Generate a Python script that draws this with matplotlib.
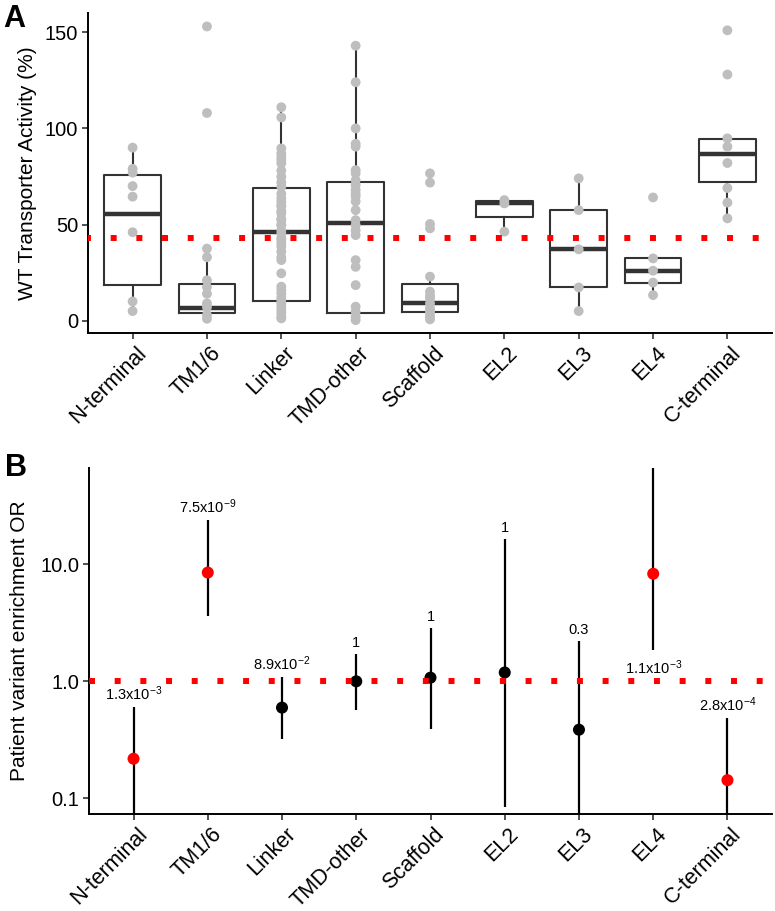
import matplotlib
matplotlib.use("Agg")
import matplotlib.pyplot as plt
import matplotlib.transforms as mtransforms

plt.rcParams['font.family'] = ['Liberation Sans', 'DejaVu Sans']
plt.rcParams['mathtext.fontset'] = 'custom'
plt.rcParams['mathtext.rm'] = 'Liberation Sans'
plt.rcParams['mathtext.it'] = 'Liberation Sans:italic'
plt.rcParams['mathtext.bf'] = 'Liberation Sans:bold'

regions = ["N-terminal", "TM1/6", "Linker", "TMD-other", "Scaffold",
           "EL2", "EL3", "EL4", "C-terminal"]

# panel A - transporter activity of each variant (% of WT)
activity = [
    [90, 79, 77, 70, 64.5, 46, 10, 5],
    [153, 108, 37.5, 33, 21, 17.5, 14, 9, 7, 3, 1],
    [111, 105.7, 89.6, 87, 85, 83.5, 81.8, 78, 74.9, 72, 69.7, 66, 63.6, 61.9,
     60, 59.3, 57, 55.8, 53, 52.3, 50, 49.7, 47, 45.4, 43, 41.9, 40, 38.5,
     35.9, 33, 31.5, 24.6, 17.7, 16, 14.2, 12, 10.7, 9, 7.3, 5.5, 3.8, 2, 1.2],
    [143, 124, 100, 92, 90.5, 78.3, 76.6, 73, 70.5, 68, 66, 64.5, 62, 57.5,
     52.3, 49.7, 47, 44.5, 31.5, 28, 18.5, 7.3, 4.7, 2, 0.3],
    [76.6, 71.8, 50.3, 48, 22.9, 15.1, 13, 11.6, 9, 6.4, 5, 3.8, 2, 0.7],
    [62.7, 61, 46.3],
    [74, 57.5, 37.1, 17.3, 5],
    [64.1, 32.4, 26, 19.8, 13.3],
    [151, 128, 94.8, 90.5, 82, 69, 61.4, 53.2],
]
box_q1 = [18.5, 3.8, 10.2, 4.2, 4.7, 53.7, 17.3, 19.8, 72.3]
box_med = [55.6, 6.8, 45.9, 50.6, 9.0, 61.4, 37.1, 26.0, 86.7]
box_q3 = [75.9, 19.2, 68.8, 72.3, 19.1, 62.2, 57.5, 32.4, 94.3]
whisk_lo = [5, 1, 1.2, 0.3, 0.7, 46.3, 5, 13.3, 53.2]
whisk_hi = [90, 37.5, 111, 143, 22.9, 62.7, 74, 32.4, 94.8]
wt_activity_line = 43

# panel B - patient variant enrichment odds ratios
odds_ratio = [0.218, 8.5, 0.596, 1.0, 1.075, 1.19, 0.386, 8.3, 0.143]
ci_low = [0.03, 3.6, 0.32, 0.565, 0.394, 0.084, 0.03, 1.84, 0.03]
ci_high = [0.60, 23.8, 1.09, 1.70, 2.88, 16.4, 2.2, 90, 0.49]
p_labels = [r"1.3x10$^{-3}$", r"7.5x10$^{-9}$", r"8.9x10$^{-2}$", "1", "1", "1",
            "0.3", r"1.1x10$^{-3}$", r"2.8x10$^{-4}$"]
significant = [True, True, False, False, False, False, False, True, True]
label_below = [False, False, False, False, False, False, False, True, False]

pos = list(range(1, len(regions) + 1))

fig = plt.figure(figsize=(7.75, 9.11), dpi=100)
axA = fig.add_axes([88 / 775, 1 - 333 / 911, 684 / 775, 320 / 911])
axB = fig.add_axes([89 / 775, 1 - 814 / 911, 683 / 775, 346 / 911])


def style_axis(ax):
    for s in ["top", "right"]:
        ax.spines[s].set_visible(False)
    for s in ["left", "bottom"]:
        ax.spines[s].set_linewidth(1.4)
        ax.spines[s].set_color("black")
    ax.tick_params(direction="out", length=4, width=1.2, color="#333333",
                   labelsize=14.5, labelcolor="black", pad=3)
    ax.set_xlim(0.4, 9.6)
    ax.set_xticks(pos)
    ax.set_xticklabels(regions, rotation=45, ha="right", va="top",
                       rotation_mode="anchor", fontsize=15.5)
    shift = mtransforms.ScaledTranslation(3 / 100, 0, fig.dpi_scale_trans)
    for lab in ax.get_xticklabels():
        lab.set_transform(lab.get_transform() + shift)


# ---- panel A ----
stats = []
for i in range(len(regions)):
    stats.append(dict(med=box_med[i], q1=box_q1[i], q3=box_q3[i],
                      whislo=whisk_lo[i], whishi=whisk_hi[i], fliers=[]))
axA.bxp(stats, positions=pos, widths=0.76, showfliers=False, showcaps=False,
        boxprops=dict(color="#333333", linewidth=1.5),
        whiskerprops=dict(color="#333333", linewidth=1.5),
        medianprops=dict(color="#333333", linewidth=3.2, solid_capstyle="butt"))
for i, vals in enumerate(activity):
    axA.scatter([pos[i]] * len(vals), vals, s=50, color="#BEBEBE",
                edgecolors="none", zorder=3)
axA.axhline(wt_activity_line, color="#FF0000", linewidth=4.3,
            linestyle=(0.5, (1, 3.3)), dash_capstyle="butt", zorder=4)
style_axis(axA)
axA.set_ylim(-6.4, 160)
axA.set_yticks([0, 50, 100, 150])
axA.set_ylabel("WT Transporter Activity (%)", fontsize=15, labelpad=6)

# ---- panel B ----
for i in range(len(regions)):
    axB.plot([pos[i], pos[i]], [ci_low[i], ci_high[i]], color="black",
             linewidth=1.6, solid_capstyle="butt", zorder=2)
    axB.scatter(pos[i], odds_ratio[i], s=75,
                color="#FF0000" if significant[i] else "black",
                edgecolors="none", zorder=3)
    if label_below[i]:
        axB.annotate(p_labels[i], (pos[i], ci_low[i]), xytext=(0, -6),
                     textcoords="offset points", ha="center", va="top",
                     fontsize=10.5)
    else:
        axB.annotate(p_labels[i], (pos[i], ci_high[i]), xytext=(0, 5),
                     textcoords="offset points", ha="center", va="baseline",
                     fontsize=10.5)
axB.axhline(1.0, color="#FF0000", linewidth=4.3, linestyle=(0, (1, 3.3)),
            dash_capstyle="butt", zorder=4)
axB.set_yscale("log")
style_axis(axB)
axB.set_ylim(0.0735, 66.5)
axB.set_yticks([0.1, 1, 10])
axB.set_yticklabels(["0.1", "1.0", "10.0"])
axB.minorticks_off()
axB.set_ylabel("Patient variant enrichment OR", fontsize=15, labelpad=8)

fig.text(3 / 775, 1 - 4 / 911, "A", fontsize=22, fontweight="bold", va="top")
fig.text(5 / 775, 1 - 453 / 911, "B", fontsize=22, fontweight="bold", va="top")

fig.savefig("out.png", dpi=100)
